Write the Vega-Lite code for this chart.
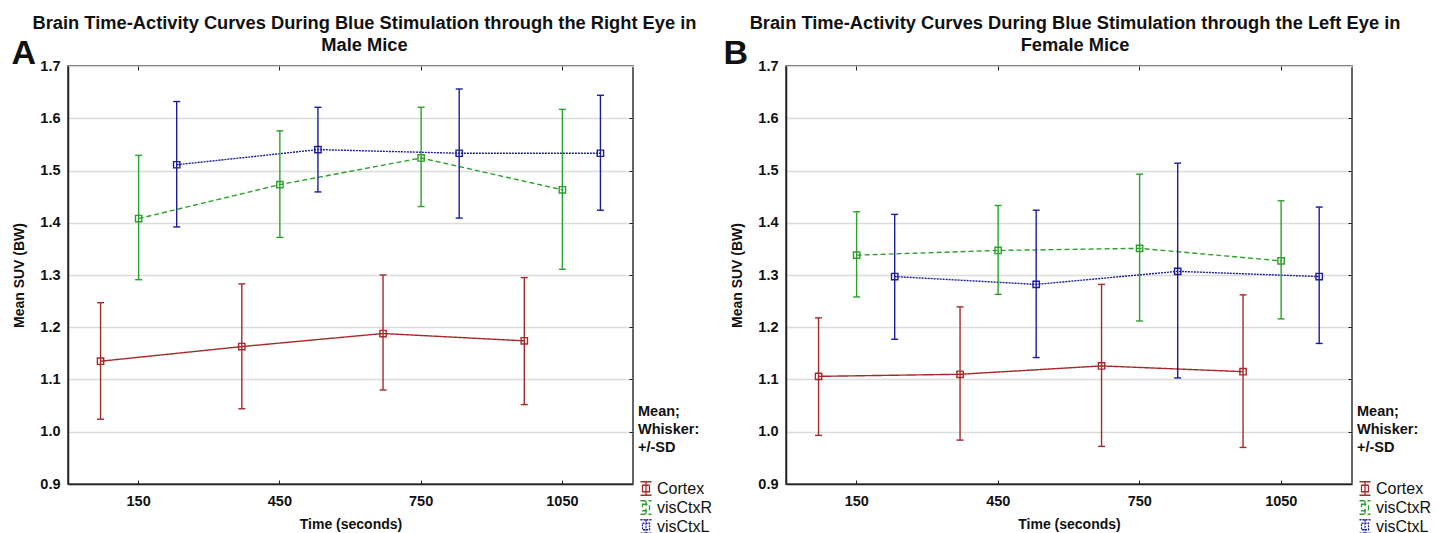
{
  "$schema": "https://vega.github.io/schema/vega-lite/v6.json",
  "autosize": {"type": "pad"},
  "padding": {"left": 10, "top": 13, "right": 2, "bottom": 0},
  "bounds": "flush",
  "spacing": 153,
  "background": "white",
  "config": {
    "font": "Liberation Sans",
    "view": {"stroke": "#333", "strokeWidth": 1.5},
    "axis": {"labelFontWeight": "bold", "labelFontSize": 14.5, "labelColor": "#111", "titleFontWeight": "bold", "titleFontSize": 14, "titleColor": "#111", "domainColor": "#222", "domainWidth": 1.5, "tickColor": "#222", "gridColor": "#dcdcdc", "gridWidth": 1.5},
    "title": {"fontSize": 18.3, "fontWeight": "bold", "color": "#111", "lineHeight": 21.5},
    "legend": {"titleFontSize": 14.5, "titleFontWeight": "bold", "titleColor": "#111", "titleLineHeight": 18, "titlePadding": 25, "labelFontSize": 16, "labelFontWeight": "normal", "labelColor": "#111", "rowPadding": -1, "symbolStrokeWidth": 1.3, "symbolFillColor": "transparent", "labelOffset": 3}
  },
  "datasets": {
    "male": [
      {"series": "Cortex", "time": 150, "mean": 1.135, "lo": 1.024, "hi": 1.247},
      {"series": "Cortex", "time": 450, "mean": 1.163, "lo": 1.044, "hi": 1.283},
      {"series": "Cortex", "time": 750, "mean": 1.188, "lo": 1.080, "hi": 1.300},
      {"series": "Cortex", "time": 1050, "mean": 1.174, "lo": 1.052, "hi": 1.295},
      {"series": "visCtxR", "time": 150, "mean": 1.408, "lo": 1.291, "hi": 1.529},
      {"series": "visCtxR", "time": 450, "mean": 1.473, "lo": 1.372, "hi": 1.576},
      {"series": "visCtxR", "time": 750, "mean": 1.524, "lo": 1.431, "hi": 1.621},
      {"series": "visCtxR", "time": 1050, "mean": 1.463, "lo": 1.311, "hi": 1.617},
      {"series": "visCtxL", "time": 150, "mean": 1.511, "lo": 1.392, "hi": 1.632},
      {"series": "visCtxL", "time": 450, "mean": 1.540, "lo": 1.459, "hi": 1.621},
      {"series": "visCtxL", "time": 750, "mean": 1.533, "lo": 1.409, "hi": 1.656},
      {"series": "visCtxL", "time": 1050, "mean": 1.533, "lo": 1.424, "hi": 1.644}
    ],
    "female": [
      {"series": "Cortex", "time": 150, "mean": 1.106, "lo": 0.993, "hi": 1.218},
      {"series": "Cortex", "time": 450, "mean": 1.110, "lo": 0.984, "hi": 1.239},
      {"series": "Cortex", "time": 750, "mean": 1.126, "lo": 0.972, "hi": 1.282},
      {"series": "Cortex", "time": 1050, "mean": 1.115, "lo": 0.970, "hi": 1.262},
      {"series": "visCtxR", "time": 150, "mean": 1.338, "lo": 1.258, "hi": 1.421},
      {"series": "visCtxR", "time": 450, "mean": 1.347, "lo": 1.263, "hi": 1.433},
      {"series": "visCtxR", "time": 750, "mean": 1.351, "lo": 1.212, "hi": 1.493},
      {"series": "visCtxR", "time": 1050, "mean": 1.327, "lo": 1.216, "hi": 1.442},
      {"series": "visCtxL", "time": 150, "mean": 1.297, "lo": 1.177, "hi": 1.416},
      {"series": "visCtxL", "time": 450, "mean": 1.282, "lo": 1.142, "hi": 1.424},
      {"series": "visCtxL", "time": 750, "mean": 1.307, "lo": 1.103, "hi": 1.514},
      {"series": "visCtxL", "time": 1050, "mean": 1.297, "lo": 1.169, "hi": 1.430}
    ]
  },
  "resolve": {"scale": {"color": "independent", "strokeDash": "independent"}, "legend": {"color": "independent"}},
  "hconcat": [
    {
      "width": 565, "height": 418,
      "data": {"name": "male"},
      "title": {"text": ["Brain Time-Activity Curves During Blue Stimulation through the Right Eye in", "Male Mice"], "anchor": "middle", "offset": -19, "dx": 14},
      "encoding": {
        "xOffset": {"field": "series", "type": "nominal", "scale": {"domain": ["Cortex", "visCtxR", "visCtxL"], "paddingInner": 0, "paddingOuter": 0.355}},
        "color": {"field": "series", "type": "nominal", "scale": {"domain": ["Cortex", "visCtxR", "visCtxL"], "range": ["#a52a2a", "#2ca02c", "#1c1c9c"]}, "legend": {"orient": "none", "legendX": 570, "legendY": 339, "title": ["Mean;", "Whisker:", "+/-SD"], "symbolType": "M-1.1,-1.35H1.1M0,-1.35V1.35M-1.1,1.35H1.1M-0.7,-0.65H0.7V0.65H-0.7Z", "encode": {"symbols": {"update": {"fill": {"value": "transparent"}}}}}}
      },
      "resolve": {"axis": {"x": "independent", "y": "independent"}},
      "layer": [
        {
          "mark": {"type": "line", "strokeWidth": 1.4},
          "encoding": {
            "x": {"field": "time", "type": "ordinal", "scale": {"paddingInner": 0, "paddingOuter": 0}, "axis": {"orient": "bottom", "title": "Time (seconds)", "labelAngle": 0, "tickSize": -4, "labelPadding": 14, "titlePadding": 10, "grid": false}},
            "y": {"field": "mean", "type": "quantitative", "scale": {"domain": [0.9, 1.7], "nice": false, "zero": false}, "axis": {"orient": "left", "values": [0.9, 1.0, 1.1, 1.2, 1.3, 1.4, 1.5, 1.6, 1.7], "format": ".1f", "ticks": false, "labelPadding": 8, "grid": true, "title": "Mean SUV (BW)", "titlePadding": 13}},
            "strokeDash": {"field": "series", "type": "nominal", "scale": {"domain": ["Cortex", "visCtxR", "visCtxL"], "range": [[1, 0], [5, 3], [2, 1]]}, "legend": null}
          }
        },
        {
          "mark": {"type": "rule", "strokeWidth": 1.4},
          "encoding": {
            "x": {"field": "time", "type": "ordinal", "scale": {"paddingInner": 0, "paddingOuter": 0}, "axis": {"orient": "top", "labels": false, "tickSize": -4, "domain": false, "grid": false, "title": "A", "titleFontSize": 34, "titleX": -57, "titleY": -3, "titleAlign": "left", "titleBaseline": "alphabetic", "titleAngle": 0}},
            "y": {"field": "lo", "type": "quantitative", "scale": {"domain": [0.9, 1.7], "nice": false, "zero": false}, "axis": {"orient": "right", "values": [1.0, 1.1, 1.2, 1.3, 1.4, 1.5, 1.6], "labels": false, "tickSize": -4, "domain": false, "grid": false, "title": null}},
            "y2": {"field": "hi"}
          }
        },
        {
          "mark": {"type": "point", "shape": "stroke", "filled": false, "size": 49, "strokeWidth": 1.4, "opacity": 1},
          "encoding": {
            "x": {"field": "time", "type": "ordinal", "axis": null},
            "y": {"field": "lo", "type": "quantitative", "scale": {"domain": [0.9, 1.7], "nice": false, "zero": false}, "axis": null}
          }
        },
        {
          "mark": {"type": "point", "shape": "stroke", "filled": false, "size": 49, "strokeWidth": 1.4, "opacity": 1},
          "encoding": {
            "x": {"field": "time", "type": "ordinal", "axis": null},
            "y": {"field": "hi", "type": "quantitative", "scale": {"domain": [0.9, 1.7], "nice": false, "zero": false}, "axis": null}
          }
        },
        {
          "mark": {"type": "point", "shape": "square", "filled": false, "size": 40, "strokeWidth": 1.4, "opacity": 1},
          "encoding": {
            "x": {"field": "time", "type": "ordinal", "axis": null},
            "y": {"field": "mean", "type": "quantitative", "scale": {"domain": [0.9, 1.7], "nice": false, "zero": false}, "axis": null}
          }
        }
      ]
    },
    {
      "width": 566, "height": 418,
      "data": {"name": "female"},
      "title": {"text": ["Brain Time-Activity Curves During Blue Stimulation through the Left Eye in", "Female Mice"], "anchor": "middle", "offset": -19, "dx": 6},
      "encoding": {
        "xOffset": {"field": "series", "type": "nominal", "scale": {"domain": ["Cortex", "visCtxR", "visCtxL"], "paddingInner": 0, "paddingOuter": 0.355}},
        "color": {"field": "series", "type": "nominal", "scale": {"domain": ["Cortex", "visCtxR", "visCtxL"], "range": ["#a52a2a", "#2ca02c", "#1c1c9c"]}, "legend": {"orient": "none", "legendX": 571, "legendY": 339, "title": ["Mean;", "Whisker:", "+/-SD"], "symbolType": "M-1.1,-1.35H1.1M0,-1.35V1.35M-1.1,1.35H1.1M-0.7,-0.65H0.7V0.65H-0.7Z", "encode": {"symbols": {"update": {"fill": {"value": "transparent"}}}}}}
      },
      "resolve": {"axis": {"x": "independent", "y": "independent"}},
      "layer": [
        {
          "mark": {"type": "line", "strokeWidth": 1.4},
          "encoding": {
            "x": {"field": "time", "type": "ordinal", "scale": {"paddingInner": 0, "paddingOuter": 0}, "axis": {"orient": "bottom", "title": "Time (seconds)", "labelAngle": 0, "tickSize": -4, "labelPadding": 14, "titlePadding": 10, "grid": false}},
            "y": {"field": "mean", "type": "quantitative", "scale": {"domain": [0.9, 1.7], "nice": false, "zero": false}, "axis": {"orient": "left", "values": [0.9, 1.0, 1.1, 1.2, 1.3, 1.4, 1.5, 1.6, 1.7], "format": ".1f", "ticks": false, "labelPadding": 8, "grid": true, "title": "Mean SUV (BW)", "titlePadding": 13}},
            "strokeDash": {"field": "series", "type": "nominal", "scale": {"domain": ["Cortex", "visCtxR", "visCtxL"], "range": [[1, 0], [5, 3], [2, 1]]}, "legend": null}
          }
        },
        {
          "mark": {"type": "rule", "strokeWidth": 1.4},
          "encoding": {
            "x": {"field": "time", "type": "ordinal", "scale": {"paddingInner": 0, "paddingOuter": 0}, "axis": {"orient": "top", "labels": false, "tickSize": -4, "domain": false, "grid": false, "title": "B", "titleFontSize": 34, "titleX": -63, "titleY": -3, "titleAlign": "left", "titleBaseline": "alphabetic", "titleAngle": 0}},
            "y": {"field": "lo", "type": "quantitative", "scale": {"domain": [0.9, 1.7], "nice": false, "zero": false}, "axis": {"orient": "right", "values": [1.0, 1.1, 1.2, 1.3, 1.4, 1.5, 1.6], "labels": false, "tickSize": -4, "domain": false, "grid": false, "title": null}},
            "y2": {"field": "hi"}
          }
        },
        {
          "mark": {"type": "point", "shape": "stroke", "filled": false, "size": 49, "strokeWidth": 1.4, "opacity": 1},
          "encoding": {
            "x": {"field": "time", "type": "ordinal", "axis": null},
            "y": {"field": "lo", "type": "quantitative", "scale": {"domain": [0.9, 1.7], "nice": false, "zero": false}, "axis": null}
          }
        },
        {
          "mark": {"type": "point", "shape": "stroke", "filled": false, "size": 49, "strokeWidth": 1.4, "opacity": 1},
          "encoding": {
            "x": {"field": "time", "type": "ordinal", "axis": null},
            "y": {"field": "hi", "type": "quantitative", "scale": {"domain": [0.9, 1.7], "nice": false, "zero": false}, "axis": null}
          }
        },
        {
          "mark": {"type": "point", "shape": "square", "filled": false, "size": 40, "strokeWidth": 1.4, "opacity": 1},
          "encoding": {
            "x": {"field": "time", "type": "ordinal", "axis": null},
            "y": {"field": "mean", "type": "quantitative", "scale": {"domain": [0.9, 1.7], "nice": false, "zero": false}, "axis": null}
          }
        }
      ]
    }
  ]
}
